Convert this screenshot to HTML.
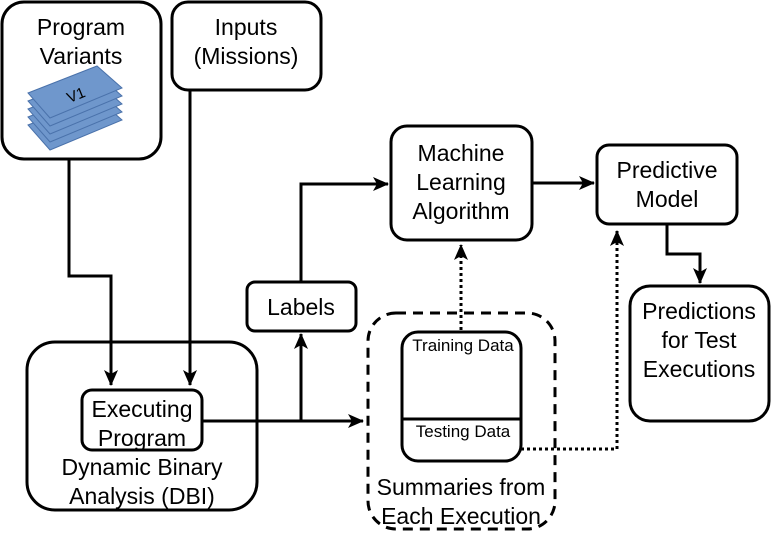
<!DOCTYPE html>
<html><head><meta charset="utf-8"><style>
html,body{margin:0;padding:0;background:#fff;}
svg{display:block;}
text{font-family:"Liberation Sans",Arial,sans-serif;font-size:23px;fill:#000;}
</style></head><body>
<svg width="771" height="533" viewBox="0 0 771 533" xmlns="http://www.w3.org/2000/svg">
<defs>
<marker id="ahb" markerWidth="16" markerHeight="16" refX="15" refY="8" orient="auto" markerUnits="userSpaceOnUse">
<path d="M0,1 L16,8 L0,15 L4,8 z" fill="#000"/>
</marker>
</defs>
<g fill="none" stroke="#000" stroke-width="3">
<rect x="2" y="2" width="159" height="157" rx="22"/>
<rect x="172" y="2" width="149" height="88" rx="16"/>
<rect x="27" y="342" width="230" height="168" rx="28"/>
<rect x="82" y="390" width="120" height="60" rx="10"/>
<rect x="247" y="282" width="109" height="49" rx="8"/>
<rect x="391" y="126" width="141" height="114" rx="16"/>
<rect x="597" y="145" width="140" height="79" rx="12"/>
<rect x="630" y="286" width="139" height="135" rx="20"/>
<rect x="402" y="332" width="119" height="129" rx="16"/>
<line x1="402" y1="419" x2="521" y2="419"/>
<rect x="368" y="313" width="187" height="216" rx="28" stroke-dasharray="10,7"/>
</g>
<g fill="none" stroke="#000" stroke-width="3">
<polyline points="69,160 69,276 111,276 111,385" marker-end="url(#ahb)"/>
<line x1="190" y1="90" x2="190" y2="385" marker-end="url(#ahb)"/>
<line x1="202" y1="421" x2="363" y2="421" marker-end="url(#ahb)"/>
<line x1="301" y1="421" x2="301" y2="334" marker-end="url(#ahb)"/>
<polyline points="301,282 301,184 388,184" marker-end="url(#ahb)"/>
<line x1="532" y1="183" x2="594" y2="183" marker-end="url(#ahb)"/>
<polyline points="667,224 667,254 700,254 700,283" marker-end="url(#ahb)"/>
<line x1="461" y1="330" x2="461" y2="245" stroke-dasharray="3,3" marker-end="url(#ahb)"/>
<polyline points="521,449 617,449 617,231" stroke-dasharray="3,3" marker-end="url(#ahb)"/>
</g>
<g fill="#6f97cc" stroke="#4a72ab" stroke-width="1">
<polygon points="28,125 97,98 122,120 50,150"/>
<polygon points="28,117 97,90 122,112 50,142"/>
<polygon points="28,109 97,82 122,104 50,134"/>
<polygon points="28,101 97,74 122,96 50,126"/>
<polygon points="28,93 97,66 122,88 50,118"/>
</g>
<text x="76" y="100" transform="rotate(-22 76 95)" text-anchor="middle" style="font-size:15px">V1</text>
<g text-anchor="middle">
<text x="81" y="35">Program</text>
<text x="81" y="64">Variants</text>
<text x="246" y="35">Inputs</text>
<text x="246" y="64">(Missions)</text>
<text x="142" y="417">Executing</text>
<text x="142" y="446">Program</text>
<text x="142" y="475">Dynamic Binary</text>
<text x="142" y="504">Analysis (DBI)</text>
<text x="301" y="315">Labels</text>
<text x="461" y="161">Machine</text>
<text x="461" y="190">Learning</text>
<text x="461" y="219">Algorithm</text>
<text x="667" y="178">Predictive</text>
<text x="667" y="207">Model</text>
<text x="699" y="319">Predictions</text>
<text x="699" y="348">for Test</text>
<text x="699" y="377">Executions</text>
<text x="463" y="351" style="font-size:17px">Training Data</text>
<text x="463" y="437" style="font-size:17px">Testing Data</text>
<text x="461" y="495">Summaries from</text>
<text x="461" y="524">Each Execution</text>
</g>
</svg>
</body></html>
